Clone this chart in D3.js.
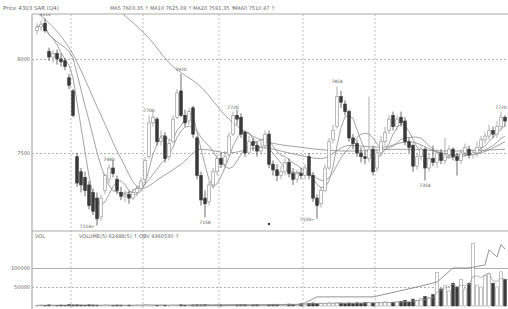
<!DOCTYPE html>
<html><head><meta charset="utf-8">
<script src="https://cdn.jsdelivr.net/npm/d3@7/dist/d3.min.js"></script>
<style>body{margin:0;background:#fff}svg{display:block}text{font-family:"DejaVu Sans",sans-serif}</style>
</head><body><svg id="c" width="508" height="309"></svg>
<script>
const opens=[8150,8170,8190,8040,8010,8030,8000,7990,7900,7830,
7480,7400,7370,7330,7290,7260,7160,7300,7360,7420,
7360,7290,7270,7280,7260,7290,7310,7360,7480,7660,
7680,7560,7590,7480,7560,7690,7830,7700,7670,7740,
7580,7380,7260,7240,7330,7400,7470,7440,7490,7600,
7700,7690,7610,7500,7560,7540,7510,7540,7600,7440,
7410,7380,7400,7450,7390,7360,7390,7380,7480,7380,
7260,7230,7300,7420,7570,7640,7800,7760,7720,7580,
7550,7500,7480,7470,7520,7420,7500,7560,7620,7700,
7640,7690,7670,7560,7540,7430,7480,7520,7420,7470,
7450,7500,7460,7490,7520,7480,7460,7500,7520,7490,
7500,7530,7570,7590,7620,7600,7640,7690];
const closes=[8170,8185,8150,8010,8030,8000,7985,7960,7860,7700,
7340,7330,7300,7220,7190,7150,7260,7380,7420,7390,
7300,7270,7280,7260,7290,7310,7350,7460,7660,7690,
7560,7580,7470,7550,7680,7820,7700,7660,7720,7600,
7380,7250,7230,7330,7400,7470,7440,7480,7590,7700,
7680,7600,7500,7560,7540,7510,7530,7600,7440,7410,
7380,7400,7450,7390,7360,7390,7380,7420,7380,7260,
7220,7300,7420,7560,7620,7800,7770,7720,7580,7550,
7500,7480,7470,7520,7400,7500,7560,7610,7680,7640,
7680,7660,7560,7530,7430,7480,7520,7420,7470,7450,
7500,7460,7490,7520,7480,7460,7500,7530,7490,7500,
7530,7570,7590,7620,7600,7640,7690,7670];
const highs=[8190,8205,8215,8060,8045,8050,8030,8005,7920,7840,
7500,7420,7400,7350,7310,7290,7280,7390,7440,7460,
7380,7320,7300,7300,7310,7330,7370,7480,7700,7720,
7690,7620,7610,7570,7700,7840,7920,7730,7740,7750,
7590,7400,7300,7350,7420,7490,7500,7510,7610,7720,
7730,7710,7620,7590,7580,7560,7560,7620,7620,7460,
7440,7430,7470,7470,7420,7410,7420,7440,7500,7400,
7280,7320,7440,7580,7650,7854,7830,7780,7730,7600,
7570,7530,7510,7800,7540,7520,7590,7640,7700,7720,
7700,7720,7690,7580,7550,7500,7540,7530,7500,7540,
7520,7520,7580,7540,7530,7500,7520,7550,7540,7520,
7560,7590,7610,7650,7640,7670,7720,7700];
const lows=[8130,8150,8140,7990,7980,7970,7960,7940,7840,7690,
7320,7290,7270,7200,7170,7114,7140,7280,7340,7370,
7280,7250,7240,7230,7250,7270,7300,7340,7470,7640,
7540,7540,7450,7460,7550,7680,7690,7640,7650,7580,
7360,7220,7158,7220,7310,7380,7420,7420,7480,7590,
7650,7580,7480,7490,7510,7480,7490,7520,7420,7380,
7350,7360,7380,7370,7330,7340,7360,7360,7360,7240,
7150,7210,7290,7410,7550,7630,7740,7700,7560,7520,
7480,7450,7440,7450,7380,7400,7480,7540,7600,7620,
7620,7640,7540,7500,7400,7410,7460,7354,7400,7430,
7420,7440,7440,7470,7460,7380,7440,7480,7470,7470,
7480,7510,7550,7570,7580,7580,7620,7640];
const volumes=[2000,2500,1800,3000,2200,1500,2600,2000,3500,2800,
3000,2400,2000,3200,2600,2200,1800,3000,2400,2000,
2600,2200,1800,2400,2000,2800,2200,3600,3000,2500,
2000,2800,2400,2000,3000,2600,3200,2400,2800,3000,
3400,3000,4000,3200,2800,3600,3000,3400,4200,3800,
3000,3600,4200,3400,3000,3800,3200,4400,3600,4000,
4600,3800,4200,5000,4400,4800,6000,5200,7000,8000,
6500,7500,6000,8500,7000,9000,7500,6500,8000,7000,
8500,7500,9000,10000,8000,9500,8500,11000,9000,10000,
11000,12000,15000,10000,18000,14000,20000,25000,22000,30000,
88000,45000,55000,40000,60000,50000,70000,45000,60000,165000,
55000,50000,80000,85000,60000,50000,90000,70000];
const ma20Idx=[1,8,16,21,26,31,36,41,48,56,63,71,78,86,93,101,108,117];
const ma20Val=[8230,8060,7700,7470,7310,7370,7440,7520,7500,7530,7500,7470,7540,7530,7560,7500,7490,7560];
const ma60Idx=[18,22,28,33,41,48,56,66,78,91,103,117];
const ma60Val=[8300,8230,8110,7980,7850,7680,7570,7530,7510,7520,7510,7520];
const obvIdx=[38,53,66,70,84,95,100,104,108,112,113,115,116,117];
const obvVal=[1000,2000,3000,24000,24000,50000,63000,100000,100000,108000,148000,129000,162000,150000];
const priceTicks=[8000,7500];
const volTicks=[100000,50000];
const monthBreaks=[9,27,46,67,85];
const notes=[{i:2,v:8215,t:"8215",pos:"top"},{i:15,v:7114,t:"7114\u2190",pos:"left"},{i:18,v:7440,t:"7440",pos:"top"},
{i:28,v:7700,t:"7700",pos:"top"},{i:36,v:7920,t:"7920",pos:"top"},{i:42,v:7158,t:"7158",pos:"bottom"},
{i:49,v:7720,t:"7720",pos:"top"},{i:70,v:7150,t:"7150\u2190",pos:"left"},{i:75,v:7854,t:"7854",pos:"top"},
{i:97,v:7354,t:"7354",pos:"bottom"},{i:116,v:7720,t:"7720",pos:"top"}];
const headerText="Price 4303 SAR (Q4)";
const arrow="\u2191\uFE0E";
const maLabels=["MA5 7603.35 "+arrow,"MA10 7625.08 "+arrow,"MA20 7591.35 "+arrow,"MA60 7510.47 "+arrow];
const volLabels=["VOL","VOLUME(5) 62488(5) "+arrow+"   OBV 4360530 "+arrow];

const svg=d3.select("#c");
const L=32,R=508,T=14,PB=231,VB=306;
const idx=d3.range(closes.length);
const x=d3.scaleBand().domain(idx).range([35,507]);
const cx=i=>x(i)+x.bandwidth()/2;
const y=d3.scaleLinear().domain([7085,8239]).range([PB,T]);
const yv=d3.scaleLinear().domain([0,100000]).range([VB,268]);

svg.append("defs").append("clipPath").attr("id","pc").append("rect").attr("x",L).attr("y",T).attr("width",R-L).attr("height",PB-T);
svg.append("defs").append("clipPath").attr("id","vc").append("rect").attr("x",L).attr("y",PB).attr("width",R-L).attr("height",309-PB);

svg.append("line").attr("x1",L).attr("x2",R).attr("y1",T).attr("y2",T).attr("stroke","#aaa").attr("stroke-width",1.2);
svg.append("line").attr("x1",L).attr("x2",R).attr("y1",PB).attr("y2",PB).attr("stroke","#aaa").attr("stroke-width",1.2);
svg.append("line").attr("x1",L).attr("x2",L).attr("y1",T).attr("y2",309).attr("stroke","#aaa").attr("stroke-width",1.2);

svg.selectAll(".mb").data(monthBreaks).join("line").attr("x1",d=>x(d)).attr("x2",d=>x(d)).attr("y1",T).attr("y2",309)
 .attr("stroke","#b5b5b5").attr("stroke-dasharray","2,2").attr("stroke-width",0.9);

const ya=d3.axisLeft(y).tickValues(priceTicks).tickSize(-(R-L)).tickFormat(d3.format("d"));
const gy=svg.append("g").attr("transform",`translate(${L},0)`).call(ya);
gy.select(".domain").remove();
gy.selectAll(".tick line").attr("stroke","#b0b0b0").attr("stroke-dasharray","2,2");
gy.selectAll(".tick text").attr("font-size",5).attr("fill","#666").attr("x",-2).attr("font-family","DejaVu Sans");

const va=d3.axisLeft(yv).tickValues(volTicks).tickSize(-(R-L)).tickFormat(d3.format("d"));
const gv=svg.append("g").attr("transform",`translate(${L},0)`).call(va);
gv.select(".domain").remove();
gv.selectAll(".tick line").attr("stroke","#b0b0b0").attr("stroke-dasharray",d=>d===50000?"2,2":null);
gv.selectAll(".tick text").attr("font-size",5).attr("fill","#666").attr("x",-2).attr("font-family","DejaVu Sans");

const pg=svg.append("g").attr("clip-path","url(#pc)");
function ma(n){return idx.map(i=>{const s=Math.max(0,i-n+1);return d3.mean(closes.slice(s,i+1));});}
const lineC=d3.line().x((d,i)=>cx(i)).y(d=>y(d));
[ma(5),ma(10)].forEach(a=>pg.append("path").attr("d",lineC(a)).attr("fill","none").attr("stroke","#8a8a8a").attr("stroke-width",0.8));
const lineS=d3.line().x(d=>cx(d[0])).y(d=>y(d[1])).curve(d3.curveMonotoneX);
pg.append("path").attr("d",lineS(ma20Idx.map((d,k)=>[d,ma20Val[k]]))).attr("fill","none").attr("stroke","#8a8a8a").attr("stroke-width",0.8);
pg.append("path").attr("d",lineS(ma60Idx.map((d,k)=>[d,ma60Val[k]]))).attr("fill","none").attr("stroke","#8a8a8a").attr("stroke-width",0.8);

const bw=2.6;
const cg=pg.selectAll(".cd").data(idx).join("g");
cg.append("line").attr("x1",cx).attr("x2",cx).attr("y1",i=>y(highs[i])).attr("y2",i=>y(lows[i])).attr("stroke",i=>closes[i]>=opens[i]?"#999":"#444").attr("stroke-width",0.8);
cg.append("rect").attr("x",i=>cx(i)-bw/2).attr("width",bw)
 .attr("y",i=>y(Math.max(opens[i],closes[i]))).attr("height",i=>Math.max(1,Math.abs(y(opens[i])-y(closes[i]))))
 .attr("fill",i=>closes[i]>=opens[i]?"#fff":"#3a3a3a").attr("stroke",i=>closes[i]>=opens[i]?"#999":"#3a3a3a").attr("stroke-width",0.7);

notes.forEach(n=>{
  const t=pg.append("text").attr("font-size",4.5).attr("fill","#555").text(n.t);
  if(n.pos==="top") t.attr("x",cx(n.i)).attr("y",y(n.v)-3).attr("text-anchor","middle");
  else if(n.pos==="bottom") t.attr("x",cx(n.i)).attr("y",y(n.v)+7).attr("text-anchor","middle");
  else t.attr("x",cx(n.i)-2).attr("y",y(n.v)+2).attr("text-anchor","end");
});
pg.append("circle").attr("cx",cx(58)).attr("cy",224).attr("r",1.2).attr("fill","#333");

const vg=svg.append("g").attr("clip-path","url(#vc)");
vg.selectAll(".vb").data(idx).join("rect").attr("x",i=>cx(i)-bw/2).attr("width",bw)
 .attr("y",i=>yv(volumes[i])).attr("height",i=>VB-yv(volumes[i]))
 .attr("fill",i=>closes[i]>=opens[i]?"#fff":"#3a3a3a").attr("stroke",i=>closes[i]>=opens[i]?"#999":"#3a3a3a").attr("stroke-width",0.6);
const vma=idx.map(i=>d3.mean(volumes.slice(Math.max(0,i-4),i+1)));
vg.append("path").attr("d",d3.line().x((d,i)=>cx(i)).y(d=>yv(d))(vma)).attr("fill","none").attr("stroke","#999").attr("stroke-width",0.7);
vg.append("path").attr("d",d3.line().x(d=>cx(d[0])).y(d=>yv(d[1]))(obvIdx.map((d,k)=>[d,obvVal[k]]))).attr("fill","none").attr("stroke","#888").attr("stroke-width",0.9);

svg.append("text").attr("x",3).attr("y",10).attr("font-size",5.5).attr("fill","#666").text(headerText);
const mx=[110,150,193,233];
maLabels.forEach((t,k)=>svg.append("text").attr("x",mx[k]).attr("y",10).attr("font-size",5).attr("fill","#666").text(t));
svg.append("text").attr("x",35).attr("y",238).attr("font-size",5).attr("fill","#666").text(volLabels[0]);
svg.append("text").attr("x",79).attr("y",238).attr("font-size",5).attr("fill","#666").text(volLabels[1]);
</script></body></html>
